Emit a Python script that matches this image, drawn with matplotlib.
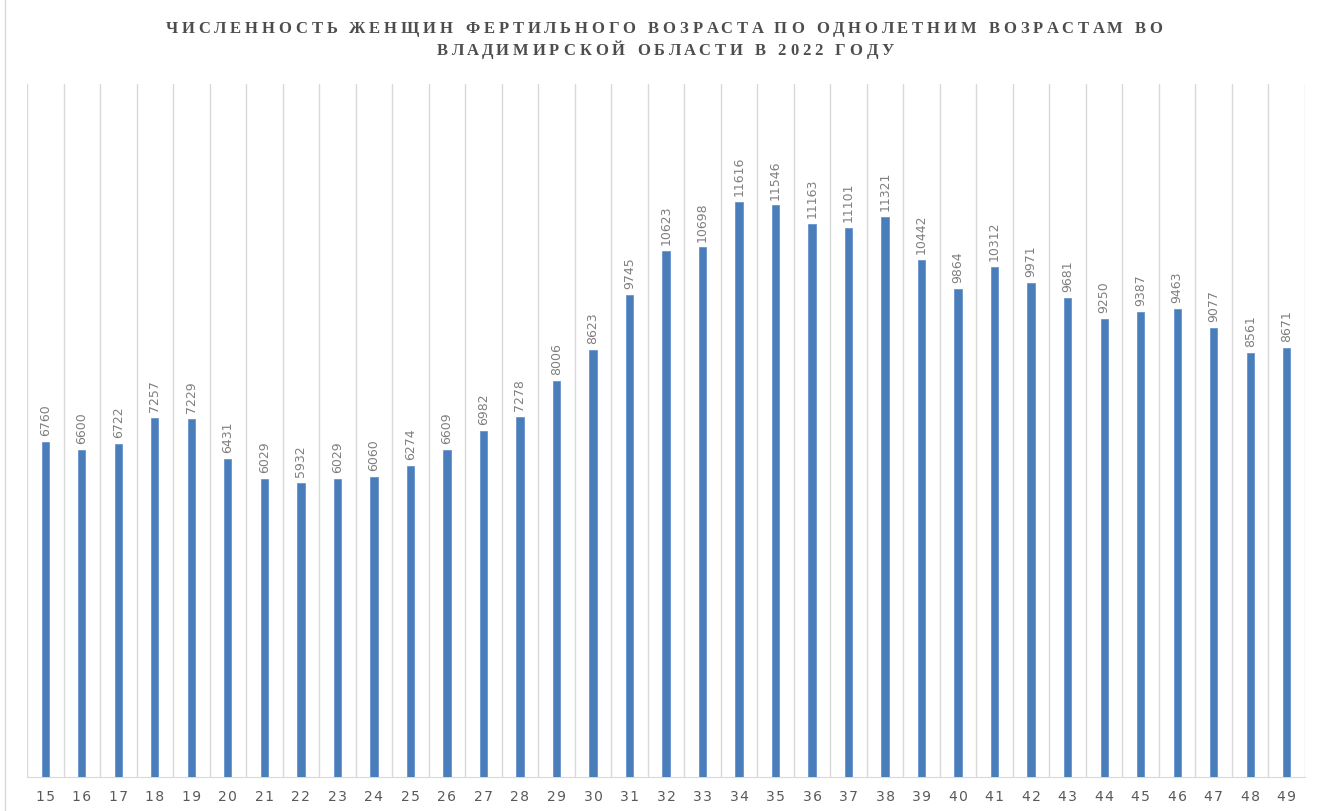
import matplotlib

matplotlib.use("Agg")
import matplotlib.pyplot as plt
from matplotlib.lines import Line2D

ages = list(range(15, 50))
counts = [6760, 6600, 6722, 7257, 7229, 6431, 6029, 5932, 6029, 6060,
          6274, 6609, 6982, 7278, 8006, 8623, 9745, 10623, 10698, 11616,
          11546, 11163, 11101, 11321, 10442, 9864, 10312, 9971, 9681, 9250,
          9387, 9463, 9077, 8561, 8671]
title_lines = ["ЧИСЛЕННОСТЬ ЖЕНЩИН ФЕРТИЛЬНОГО ВОЗРАСТА ПО ОДНОЛЕТНИМ ВОЗРАСТАМ ВО",
               "ВЛАДИМИРСКОЙ ОБЛАСТИ В 2022 ГОДУ"]

W, H = 1318, 812


def tracked_text(fig, s, cx, cy, track, **kw):
    """Draw s centred at pixel (cx, cy) with extra px between letters."""
    r = fig.canvas.get_renderer()

    def width(txt):
        t = fig.text(0, 0, txt, **kw)
        w = t.get_window_extent(r).width
        t.remove()
        return w

    ref = width("ОО")
    widths = [width("О" + ch + "О") - ref for ch in s]
    total = sum(widths) + track * (len(s) - 1)
    x = cx - total / 2
    for ch, w in zip(s, widths):
        if ch != " ":
            fig.text(x / W, 1 - cy / H, ch, ha="left", va="center", **kw)
        x += w + track


fig = plt.figure(figsize=(W / 100, H / 100), dpi=100)
ax = fig.add_axes([27 / W, 1 - 778 / H, (1305 - 27) / W, (778 - 85) / H])

x = list(range(len(ages)))
ax.bar(x, counts, width=0.2, color="#4a7ebb", edgecolor="#5b8ccc", linewidth=0.5, zorder=3)
for xi, v in zip(x, counts):
    ax.annotate(str(v), (xi, v), xytext=(0, 5), textcoords="offset points",
                rotation=90, ha="center", va="bottom", fontsize=9, color="#7f7f7f")

ax.set_xlim(-0.5, len(ages) - 0.5)
ax.set_ylim(0, 14000)
for b in range(len(ages) + 1):
    ax.axvline(b - 0.5, color="#d9d9d9", linewidth=1, zorder=1)
ax.set_xticks(x)
ax.set_xticklabels(["\u200a".join(str(a)) for a in ages], fontsize=10,
                   color="#595959", family=["DejaVu Sans"])
ax.tick_params(axis="x", length=0, pad=9)
ax.set_yticks([])
for s in ["top", "left", "right"]:
    ax.spines[s].set_visible(False)
ax.spines["bottom"].set_color("#d9d9d9")

title_kw = dict(fontsize=12, fontweight="bold", family="Liberation Serif", color="#4d4d4d")
tracked_text(fig, title_lines[0], 664, 29, 4.0, **title_kw)
tracked_text(fig, title_lines[1], 664, 51, 4.0, **title_kw)

fig.add_artist(Line2D([5 / W, 5 / W], [0, 1], color="#d9d9d9", linewidth=1,
                      transform=fig.transFigure))

fig.savefig("out.png", dpi=100)
